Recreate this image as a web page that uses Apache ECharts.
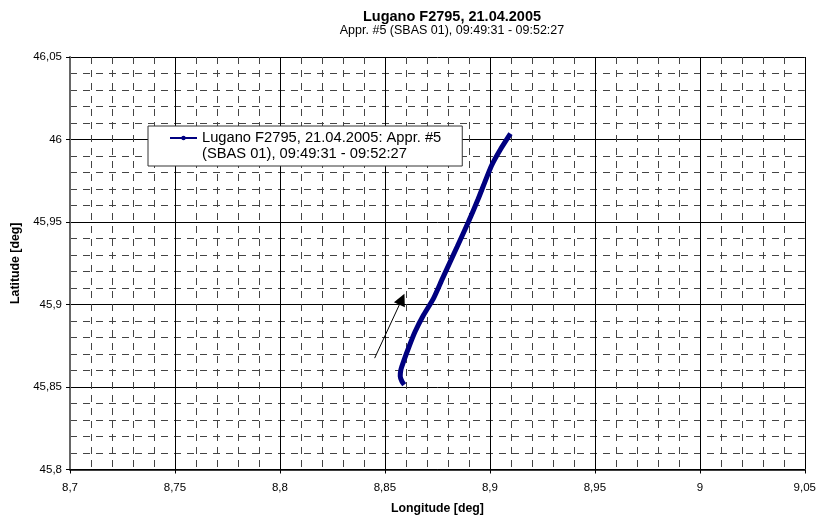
<!DOCTYPE html>
<html>
<head>
<meta charset="utf-8">
<script src="https://cdn.jsdelivr.net/npm/echarts@6/dist/echarts.min.js"></script>
<style>
html,body{margin:0;padding:0;background:#fff;}
#chart{width:819px;height:520px;}
</style>
</head>
<body>
<div id="chart"></div>
<script>
// Track points (longitude, latitude), from start (south) to end (north)
const longitudes = [8.8592, 8.8581, 8.8573, 8.8576, 8.8589, 8.8612, 8.8644, 8.8684, 8.8731, 8.8774, 8.8844, 8.8897, 8.8944, 8.9007, 8.9050, 8.9098];
const latitudes  = [45.8514, 45.8534, 45.8565, 45.8604, 45.8655, 45.8735, 45.8836, 45.8936, 45.9036, 45.9157, 45.9350, 45.9498, 45.9639, 45.9840, 45.9940, 46.0036];
const seriesName = 'Lugano F2795, 21.04.2005: Appr. #5\n(SBAS 01), 09:49:31 - 09:52:27';
const titleText = 'Lugano F2795, 21.04.2005';
const subtitleText = 'Appr. #5 (SBAS 01), 09:49:31 - 09:52:27';
const xAxisName = 'Longitude [deg]';
const yAxisName = 'Latitude [deg]';
// Direction arrow annotation (data coordinates)
const arrowStart = [8.8451, 45.8675];
const arrowEnd = [8.8581, 45.9032];

const points = longitudes.map((x, i) => [x, latitudes[i]]);
const fmt = v => String(+v.toFixed(4)).replace('.', ',');
const FONT = '"Liberation Sans", Arial, sans-serif';
// legend icon: line with small dot placed on the first text line of a two-line label
const legendIcon = 'path://M0,0 M27,32 M0,7 L27,7 L27,9 L0,9 Z M13.5,5.8 A2.2,2.2 0 1,1 13.5,10.2 A2.2,2.2 0 1,1 13.5,5.8 Z';

const chart = echarts.init(document.getElementById('chart'), null, {renderer: 'canvas'});
chart.setOption({
  animation: false,
  backgroundColor: '#ffffff',
  textStyle: {fontFamily: FONT},
  title: {
    text: titleText,
    subtext: subtitleText,
    left: 447,
    top: 4,
    textAlign: 'center',
    itemGap: 0,
    textStyle: {fontFamily: FONT, fontSize: 14.5, fontWeight: 'bold', color: '#000'},
    subtextStyle: {fontFamily: FONT, fontSize: 12.5, color: '#000'}
  },
  grid: {left: 70, right: 11, top: 57, bottom: 48, containLabel: false},
  legend: {
    left: 148,
    top: 126,
    orient: 'vertical',
    backgroundColor: '#ffffff',
    borderColor: '#333',
    borderWidth: 1,
    padding: [4, 21, 4, 22],
    itemWidth: 27,
    itemHeight: 32,
    itemGap: 0,
    icon: legendIcon,
    itemStyle: {color: '#000080', borderWidth: 0},
    textStyle: {fontFamily: FONT, fontSize: 14.7, color: '#000', lineHeight: 16},
    data: [seriesName]
  },
  xAxis: {
    type: 'value',
    min: 8.7, max: 9.05, interval: 0.05,
    name: xAxisName,
    nameLocation: 'middle',
    nameGap: 33.5,
    nameTextStyle: {fontFamily: FONT, fontSize: 12.3, fontWeight: 'bold', color: '#000'},
    axisLine: {show: true, onZero: false, lineStyle: {color: '#000', width: 1.5}},
    axisTick: {show: true, length: 4, inside: false, lineStyle: {color: '#000'}},
    axisLabel: {fontFamily: FONT, fontSize: 11.5, color: '#000', margin: 12, formatter: fmt},
    splitLine: {show: true, lineStyle: {color: '#000', width: 1}},
    minorTick: {show: false, splitNumber: 5},
    minorSplitLine: {show: true, lineStyle: {color: '#444', width: 1, type: [7, 6]}}
  },
  yAxis: {
    type: 'value',
    min: 45.8, max: 46.05, interval: 0.05,
    name: yAxisName,
    nameLocation: 'middle',
    nameGap: 48,
    nameTextStyle: {fontFamily: FONT, fontSize: 12.3, fontWeight: 'bold', color: '#000'},
    axisLine: {show: true, onZero: false, lineStyle: {color: '#666', width: 2}},
    axisTick: {show: true, length: 4, inside: false, lineStyle: {color: '#000'}},
    axisLabel: {fontFamily: FONT, fontSize: 11.5, color: '#000', margin: 8, formatter: fmt},
    splitLine: {show: true, lineStyle: {color: '#000', width: 1}},
    minorTick: {show: false, splitNumber: 5},
    minorSplitLine: {show: true, lineStyle: {color: '#444', width: 1, type: [7, 6]}}
  },
  series: [{
    name: seriesName,
    type: 'line',
    data: points,
    color: '#000080',
    symbol: 'circle',
    symbolSize: 3,
    showSymbol: false,
    smooth: 0.2,
    lineStyle: {color: '#000080', width: 5},
    itemStyle: {color: '#000080'},
    z: 5,
    markLine: {
      silent: true,
      symbol: ['none', 'triangle'],
      symbolSize: 12,
      label: {show: false},
      lineStyle: {color: '#000', width: 1, type: 'solid'},
      itemStyle: {color: '#000'},
      data: [[{coord: arrowStart, symbol: 'none'}, {coord: arrowEnd, symbol: 'triangle', symbolSize: 12}]]
    }
  }]
});
</script>
</body>
</html>
